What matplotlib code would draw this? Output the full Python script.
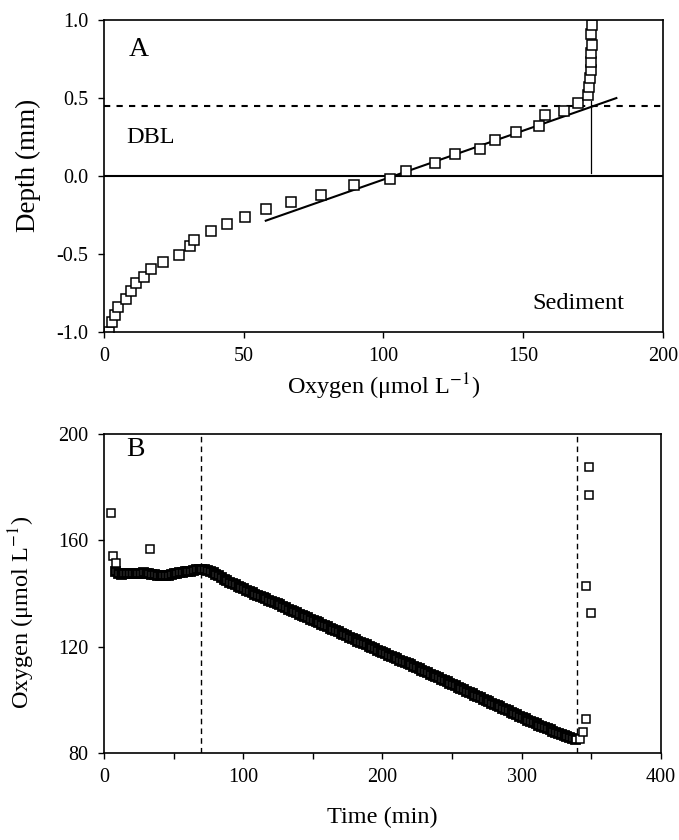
import matplotlib
matplotlib.use("Agg")
import matplotlib.pyplot as plt

plt.rcParams['font.family'] = ['Liberation Serif', 'DejaVu Serif']
plt.rcParams['mathtext.fontset'] = 'stix'

# Panel A: oxygen profile (oxygen, depth)
profile_oxygen = [2.0, 2.8, 3.9, 5.0, 7.8, 9.6, 11.4, 14.5, 16.8, 21.0, 26.8, 30.7,
                  32.4, 38.4, 43.9, 50.3, 57.9, 66.9, 77.8, 89.5, 102.3, 108.2,
                  118.3, 125.6, 134.6, 139.8, 147.4, 155.6, 157.7, 164.7, 169.7,
                  173.1, 173.5, 173.8, 174.3, 174.3, 174.3, 174.6, 174.3, 174.6]
profile_depth = [-1.0, -0.94, -0.89, -0.84, -0.79, -0.74, -0.69, -0.65, -0.60, -0.55,
                 -0.51, -0.45, -0.41, -0.355, -0.31, -0.265, -0.21, -0.165, -0.12,
                 -0.06, -0.02, 0.03, 0.085, 0.14, 0.175, 0.23, 0.28, 0.32, 0.39, 0.42,
                 0.47, 0.52, 0.57, 0.63, 0.68, 0.73, 0.79, 0.84, 0.91, 0.97]
fit_oxygen = [57.9, 183.3]
fit_depth = [-0.287, 0.50]
dbl_top = 0.45
surface_oxygen = 174.3
surface_depth = [0.02, 0.48]

# Panel B: oxygen time series
time_min = list(range(8, 340, 2))
oxygen_ts = [
    148.5, 147.8, 147.5, 147.6, 147.8, 147.9, 147.7, 147.6, 147.8, 147.9,  # 8-26
    148.0, 147.8, 147.6, 147.5, 147.2, 147.0, 146.8, 146.8, 146.9, 147.1,  # 28-46
    147.3, 147.6, 147.8, 148.0, 148.2, 148.3, 148.4, 148.6, 148.9, 149.2,  # 48-66
    149.4, 149.3, 149.2, 148.9, 148.5, 148.0, 147.4, 146.8, 146.2, 145.6,  # 68-86
    145.0, 144.5, 144.0, 143.5, 143.0, 142.5, 141.9, 141.4, 140.9, 140.5,  # 88-106
    140.0, 139.6, 139.1, 138.6, 138.2, 137.7, 137.3, 136.8, 136.4, 136.0,  # 108-126
    135.4, 134.8, 134.3, 133.8, 133.3, 132.9, 132.4, 131.9, 131.4, 131.0,  # 128-146
    130.5, 130.0, 129.6, 129.1, 128.6, 128.2, 127.7, 127.2, 126.8, 126.3,  # 148-166
    125.8, 125.3, 124.8, 124.3, 123.8, 123.3, 122.8, 122.3, 121.9, 121.4,  # 168-186
    120.9, 120.4, 119.9, 119.4, 118.9, 118.4, 118.0, 117.5, 117.0, 116.5,  # 188-206
    116.1, 115.6, 115.1, 114.7, 114.2, 113.8, 113.3, 112.8, 112.3, 111.8,  # 208-226
    111.4, 110.9, 110.4, 109.9, 109.4, 108.9, 108.4, 107.9, 107.4, 106.9,  # 228-246
    106.4, 105.9, 105.4, 104.9, 104.4, 103.9, 103.4, 102.9, 102.4, 101.9,  # 248-266
    101.4, 100.9, 100.4, 99.9, 99.4, 98.9, 98.4, 97.9, 97.5, 97.0,         # 268-286
    96.5, 96.0, 95.5, 95.0, 94.5, 94.0, 93.5, 93.0, 92.5, 92.1,            # 288-306
    91.6, 91.1, 90.7, 90.2, 89.8, 89.3, 88.9, 88.4, 88.0, 87.6,            # 308-326
    87.2, 86.8, 86.4, 86.0, 85.6, 85.2]                                    # 328-338
outlier_time = [5.3, 6.9, 8.4, 32.8, 341.6, 343.8, 346.3, 346.3, 348.4, 348.4, 349.4]
outlier_oxygen = [170.4, 154.2, 151.4, 156.7, 85.3, 87.8, 92.8, 142.9, 187.7, 177.1, 132.6]
incubation_marks = [70, 340]

fig = plt.figure(figsize=(6.79, 8.4), dpi=100)

# ---- Panel A ----
ax1 = fig.add_axes([0.153, 0.605, 0.8235, 0.371])
ax1.axhline(0, color='black', lw=1.5)
ax1.axhline(dbl_top, color='black', lw=1.5, ls=(0, (3, 3)))
ax1.plot(fit_oxygen, fit_depth, color='black', lw=1.5)
ax1.plot([surface_oxygen, surface_oxygen], surface_depth, color='black', lw=0.9)
ax1.plot(profile_oxygen, profile_depth, ls='none', marker='s', ms=7.5,
         mfc='white', mec='black', mew=1.1)
ax1.set_xlim(0, 200)
ax1.set_ylim(-1.0, 1.0)
ax1.set_xticks([0, 50, 100, 150, 200])
ax1.set_yticks([-1.0, -0.5, 0.0, 0.5, 1.0])
ax1.set_yticklabels(['-1.0', '-0.5', '0.0', '0.5', '1.0'])
ax1.set_xlabel('Oxygen (μmol L$^{-1}$)', fontsize=17.5, labelpad=4)
ax1.set_ylabel('Depth (mm)', fontsize=19.5)
ax1.yaxis.set_label_coords(-0.113, 0.535)
ax1.text(9, 0.81, 'A', fontsize=20, va='center', ha='left')
ax1.text(8, 0.245, 'DBL', fontsize=17.5, va='center', ha='left')
ax1.text(186, -0.82, 'Sediment', fontsize=17.5, va='center', ha='right')

# ---- Panel B ----
ax2 = fig.add_axes([0.153, 0.1036, 0.8205, 0.3797])
for t in incubation_marks:
    ax2.axvline(t, color='black', lw=1.0, ls=(0, (4, 3)))
ax2.plot(time_min, oxygen_ts, ls='none', marker='s', ms=6.3,
         mfc='white', mec='black', mew=2.0)
ax2.plot(outlier_time, outlier_oxygen, ls='none', marker='s', ms=6,
         mfc='white', mec='black', mew=1.1)
ax2.set_xlim(0, 400)
ax2.set_ylim(80, 200)
ax2.set_xticks([0, 100, 200, 300, 400])
ax2.set_xticks([50, 150, 250, 350], minor=True)
ax2.set_yticks([80, 120, 160, 200])
ax2.set_xlabel('Time (min)', fontsize=17.5, labelpad=14)
ax2.set_ylabel('Oxygen (μmol L$^{-1}$)', fontsize=17.5)
ax2.yaxis.set_label_coords(-0.12, 0.44)
ax2.text(16, 194, 'B', fontsize=20, va='center', ha='left')

for ax in (ax1, ax2):
    ax.tick_params(axis='both', which='major', direction='out', length=4,
                   width=1.0, labelsize=14.5, colors='black', pad=7)
    ax.tick_params(axis='x', which='minor', direction='out', length=4, width=1.0)
    for s in ax.spines.values():
        s.set_linewidth(1.2)

fig.savefig('out.png', dpi=100)
